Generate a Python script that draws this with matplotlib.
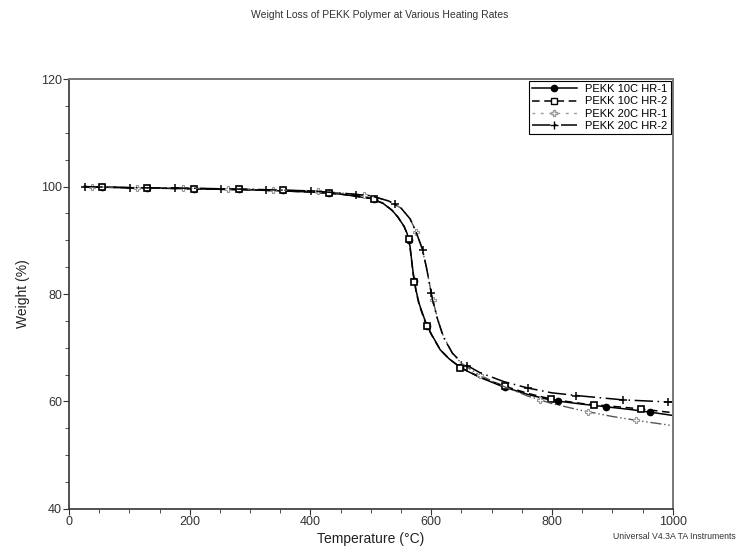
import numpy as np
import matplotlib
matplotlib.use("Agg")
import matplotlib.pyplot as plt
from matplotlib.ticker import MultipleLocator

plt.rcParams['font.family'] = ['Liberation Sans', 'DejaVu Sans']

# curves (temperature in C, weight in %)
t_10c_1 = [25, 50, 100, 200, 300, 400, 450, 500, 520, 535, 545, 555, 560, 565, 570, 575,
           580, 590, 600, 615, 630, 650, 680, 720, 760, 800, 850, 890, 930, 963, 1000]
w_10c_1 = [100.0, 99.9, 99.8, 99.6, 99.4, 99.0, 98.6, 97.8, 96.9, 95.6, 94.3, 92.6, 91.3, 88.8, 84.0, 80.6,
           78.2, 75.0, 72.6, 69.6, 67.9, 66.2, 64.5, 62.7, 61.3, 60.2, 59.5, 59.0, 58.5, 58.0, 57.4]

t_10c_2 = [25, 50, 100, 200, 300, 400, 450, 500, 520, 535, 545, 555, 560, 565, 570, 575,
           580, 590, 600, 615, 630, 650, 680, 720, 760, 800, 850, 900, 948, 1000]
w_10c_2 = [100.0, 99.9, 99.8, 99.6, 99.4, 99.0, 98.6, 97.8, 96.9, 95.6, 94.3, 92.6, 91.2, 88.6, 83.8, 80.4,
           78.0, 74.8, 72.5, 69.6, 67.9, 66.2, 64.6, 62.9, 61.5, 60.4, 59.6, 59.1, 58.6, 57.9]

t_20c_1 = [25, 100, 200, 300, 400, 450, 500, 530, 550, 565, 575, 585, 592, 597, 602, 610,
           620, 635, 650, 680, 720, 760, 800, 850, 900, 950, 1000]
w_20c_1 = [100.0, 99.8, 99.7, 99.5, 99.2, 98.8, 98.3, 97.3, 96.0, 94.0, 91.6, 88.4, 85.0, 82.0, 79.2, 75.6,
           72.2, 69.0, 67.1, 64.9, 62.8, 61.0, 59.6, 58.3, 57.2, 56.3, 55.5]

t_20c_2 = [25, 100, 200, 300, 400, 450, 500, 530, 550, 565, 575, 585, 592, 597, 602, 610,
           620, 635, 650, 680, 720, 760, 800, 850, 917, 993, 1000]
w_20c_2 = [100.0, 99.8, 99.7, 99.5, 99.2, 98.8, 98.3, 97.3, 96.0, 94.0, 91.5, 88.5, 85.0, 82.0, 79.0, 75.5,
           72.0, 69.0, 67.3, 65.4, 63.7, 62.5, 61.6, 61.0, 60.3, 59.9, 59.9]

# marker positions on each curve
mk_t_10c_1 = [55, 130, 207, 281, 355, 430, 505, 563, 571, 593, 647, 722, 810, 890, 963]
mk_w_10c_1 = [99.9, 99.7, 99.6, 99.5, 99.3, 98.8, 97.7, 90.0, 82.5, 74.1, 66.4, 62.7, 60.0, 59.0, 58.0]
mk_t_10c_2 = [55, 130, 207, 281, 355, 430, 505, 563, 571, 593, 647, 722, 798, 870, 948]
mk_w_10c_2 = [99.9, 99.7, 99.6, 99.5, 99.3, 98.8, 97.7, 90.2, 82.2, 74.0, 66.3, 62.9, 60.4, 59.3, 58.6]
mk_t_20c_1 = [38, 113, 189, 263, 338, 413, 488, 575, 603, 680, 780, 860, 940]
mk_w_20c_1 = [100.0, 99.8, 99.7, 99.6, 99.4, 99.1, 98.4, 91.6, 78.8, 64.9, 60.2, 58.1, 56.5]
mk_t_20c_2 = [26, 101, 176, 251, 326, 401, 476, 540, 586, 600, 660, 760, 840, 917, 993]
mk_w_20c_2 = [100.0, 99.8, 99.7, 99.6, 99.4, 99.2, 98.5, 96.8, 88.2, 80.2, 66.6, 62.5, 61.1, 60.3, 59.9]

labels = ['PEKK 10C HR-1', 'PEKK 10C HR-2', 'PEKK 20C HR-1', 'PEKK 20C HR-2']

fig = plt.figure(figsize=(7.38, 5.46), dpi=100)
ax = fig.add_axes([0.0935, 0.068, 0.818, 0.787])

ax.plot(t_10c_1, w_10c_1, color='black', lw=1.1, ls='-')
ax.plot(mk_t_10c_1, mk_w_10c_1, ls='none', marker='o', ms=4.5, color='black')

ax.plot(t_10c_2, w_10c_2, color='black', lw=1.1, ls=(0, (5, 3)))
ax.plot(mk_t_10c_2, mk_w_10c_2, ls='none', marker='s', ms=5, mfc='white', mec='black', mew=1.2)

ax.plot(t_20c_1, w_20c_1, color='#555555', lw=1.0, ls=(0, (8, 2, 1, 2, 1, 2)))
ax.plot(mk_t_20c_1, mk_w_20c_1, ls='none', marker='P', ms=4.5, mfc='white', mec='#999999', mew=0.8)

ax.plot(t_20c_2, w_20c_2, color='black', lw=1.1, ls=(0, (12, 3, 1, 3)))
ax.plot(mk_t_20c_2, mk_w_20c_2, ls='none', marker='+', ms=6, color='black', mew=1.1)

# legend proxies (line + marker)
h1, = ax.plot([], [], color='black', lw=1.1, marker='o', ms=4.5, markevery=[0])
h2, = ax.plot([], [], color='black', lw=1.1, ls=(0, (5, 3)), marker='s', ms=5, mfc='white', markevery=[0])
h3, = ax.plot([], [], color='#999999', lw=1.0, ls=(0, (2, 4)), marker='P', ms=4.5, mfc='white', mec='#999999', markevery=[0])
h4, = ax.plot([], [], color='black', lw=1.1, ls=(0, (12, 3, 1, 3)), marker='+', ms=6, markevery=[0])
leg = ax.legend([h1, h2, h3, h4], labels, loc='upper right', fontsize=8, frameon=True, fancybox=False,
                edgecolor='black', framealpha=1, borderaxespad=0.15, handlelength=4, labelspacing=0.2,
                borderpad=0.3, handletextpad=0.8)
leg.get_frame().set_linewidth(0.8)

ax.set_xlim(0, 1000)
ax.set_ylim(40, 120)
ax.xaxis.set_major_locator(MultipleLocator(200))
ax.xaxis.set_minor_locator(MultipleLocator(50))
ax.yaxis.set_major_locator(MultipleLocator(20))
ax.yaxis.set_minor_locator(MultipleLocator(5))
ax.tick_params(which='both', direction='out', color='#333333', labelsize=9, labelcolor='#333333', pad=1)
ax.tick_params(which='major', length=4)
ax.tick_params(which='minor', length=3)
for side in ['left', 'bottom']:
    ax.spines[side].set_color('#333333')
    ax.spines[side].set_linewidth(1.2)
for side in ['top', 'right']:
    ax.spines[side].set_color('#777777')
    ax.spines[side].set_linewidth(1.4)

ax.set_xlabel('Temperature (°C)', fontsize=10, color='#222222', labelpad=3)
ax.set_ylabel('Weight (%)', fontsize=10, color='#222222', labelpad=8)

fig.text(0.515, 0.972, 'Weight Loss of PEKK Polymer at Various Heating Rates', ha='center', va='center',
         fontsize=7.5, color='#333333')
fig.text(0.997, 0.018, 'Universal V4.3A TA Instruments', ha='right', va='center', fontsize=6.3,
         color='#333333')

fig.savefig('out.png', dpi=100)
